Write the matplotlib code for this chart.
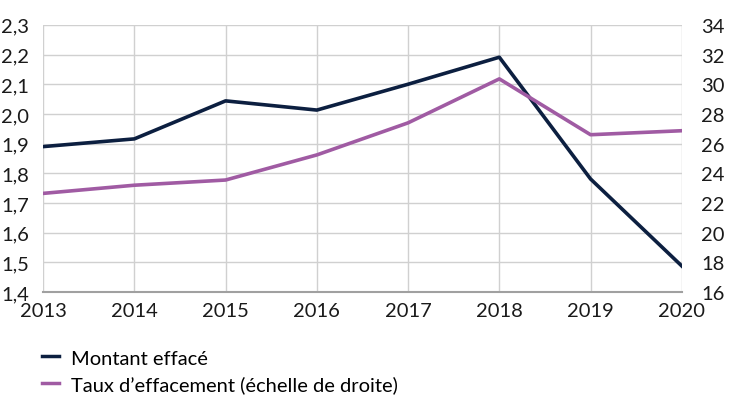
import matplotlib.pyplot as plt
from matplotlib.lines import Line2D

plt.rcParams['font.family'] = ['Lato', 'DejaVu Sans']

# Données
annees = [2013, 2014, 2015, 2016, 2017, 2018, 2019, 2020]
montant_efface = [1.89, 1.916, 2.044, 2.013, 2.10, 2.191, 1.781, 1.488]
taux_effacement = [22.65, 23.2, 23.55, 25.24, 27.4, 30.36, 26.6, 26.87]

gauche_ticks = [1.4, 1.5, 1.6, 1.7, 1.8, 1.9, 2.0, 2.1, 2.2, 2.3]
droite_ticks = [16, 18, 20, 22, 24, 26, 28, 30, 32, 34]

couleur_montant = '#0c1f40'
couleur_taux = '#a05ba3'

fig = plt.figure(figsize=(7.3, 4.1), dpi=100)
ax = fig.add_axes([0.059, 0.285, 0.875, 0.652])
ax2 = ax.twinx()

ax.plot(annees, montant_efface, color=couleur_montant, lw=2.6, zorder=3)
ax2.plot(annees, taux_effacement, color=couleur_taux, lw=2.6, zorder=3)

ax.set_xlim(2013, 2020)
ax.set_ylim(1.4, 2.3)
ax2.set_ylim(16, 34)
ax.set_xticks(annees)
ax.set_yticks(gauche_ticks)
ax.set_yticklabels([f"{v:.1f}".replace('.', ',') for v in gauche_ticks])
ax2.set_yticks(droite_ticks)

ax.grid(True, color='#d0d0d0', lw=1)
ax.set_axisbelow(True)
ax2.set_zorder(ax.get_zorder() + 1)
ax2.patch.set_visible(False)

for a in (ax, ax2):
    for s in a.spines.values():
        s.set_visible(False)
    a.tick_params(length=0, labelsize=14.5, colors='#1a1a1a')
ax.spines['bottom'].set_visible(True)
ax.spines['bottom'].set_color('#a0a0a0')
ax.spines['bottom'].set_linewidth(1.5)
ax.tick_params(axis='x', pad=7)
ax.tick_params(axis='y', pad=10)
ax2.tick_params(axis='y', pad=14)

handles = [Line2D([], [], color=couleur_montant, lw=2.5),
           Line2D([], [], color=couleur_taux, lw=2.5)]
fig.legend(handles, ['Montant effacé', 'Taux d\u2019effacement (échelle de droite)'],
           loc='upper left', bbox_to_anchor=(0.047, 0.165), frameon=False,
           fontsize=14.5, handlelength=0.85, handletextpad=0.55, labelspacing=0.45,
           borderaxespad=0)

fig.savefig('out.png', dpi=100)
